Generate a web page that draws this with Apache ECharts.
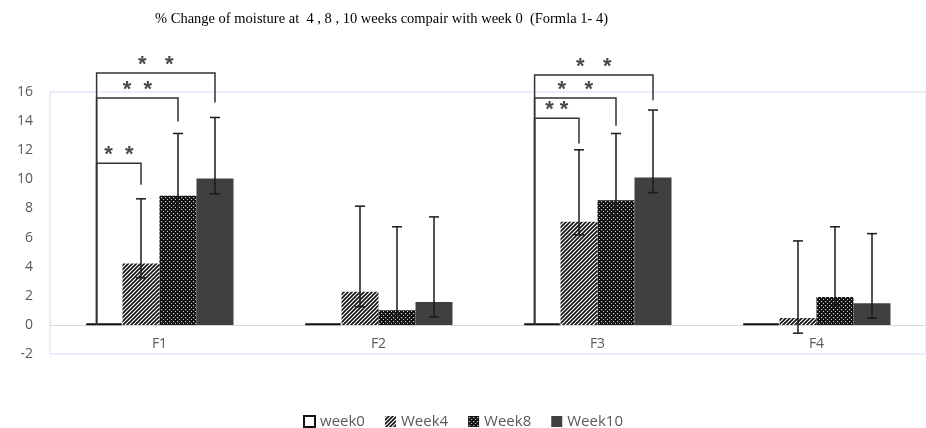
<!DOCTYPE html>
<html>
<head>
<meta charset="utf-8">
<script src="https://cdn.jsdelivr.net/npm/echarts@6/dist/echarts.min.js"></script>
<style>html,body{margin:0;padding:0;background:#fff}#c{width:926px;height:428px}</style>
</head>
<body>
<div id="c"></div>
<script>
// ---- data ----
const titleText = '% Change of moisture at  4 , 8 , 10 weeks compair with week 0  (Formla 1- 4)';
const categories = ['F1', 'F2', 'F3', 'F4'];
const seriesNames = ['week0', 'Week4', 'Week8', 'Week10'];
const week0 = [0.1, 0.1, 0.1, 0.1];
const week4 = [4.21, 2.27, 7.08, 0.48];
const week8 = [8.87, 1.01, 8.57, 1.92];
const week10 = [10.05, 1.58, 10.12, 1.49];
const week4Low = [3.23, 1.24, 6.19, -0.57];
const week4High = [8.66, 8.16, 12.03, 5.77];
const week8Low = [7.84, 0.6, 7.56, 1.3];
const week8High = [13.15, 6.74, 13.15, 6.74];
const week10Low = [9.0, 0.55, 9.09, 0.46];
const week10High = [14.25, 7.42, 14.76, 6.27];
const yTicks = [-2, 0, 2, 4, 6, 8, 10, 12, 14, 16];
// significance brackets: category index, target bar index, bracket level, drop end, label
const bracketCategory = [0, 0, 0, 2, 2, 2];
const bracketTarget = [1, 2, 3, 1, 2, 3];
const bracketLevel = [11.11, 15.58, 17.3, 14.2, 15.58, 17.16];
const bracketEnd = [9.62, 13.97, 15.28, 12.46, 13.68, 15.44];
const bracketLabel = ['*  *', '*  *', '*   *', '* *', '*   *', '*   *'];

// ---- styles ----
const BAR_W = 37;
const GRID_H = 262;
const yMin = yTicks[0], yMax = yTicks[yTicks.length - 1];
function hatchPattern() {
  const c = document.createElement('canvas');
  c.width = 4; c.height = 4;
  const g = c.getContext('2d');
  g.fillStyle = '#fff'; g.fillRect(0, 0, 4, 4);
  g.strokeStyle = '#111'; g.lineWidth = 1.6;
  g.beginPath();
  g.moveTo(-1, 5); g.lineTo(5, -1);
  g.moveTo(-1, 1); g.lineTo(1, -1);
  g.moveTo(3, 5); g.lineTo(5, 3);
  g.stroke();
  return { image: c, repeat: 'repeat' };
}
function dotPattern() {
  const c = document.createElement('canvas');
  c.width = 4; c.height = 4;
  const g = c.getContext('2d');
  g.fillStyle = '#111'; g.fillRect(0, 0, 4, 4);
  g.fillStyle = '#d0d0d0';
  g.fillRect(1, 1, 1.2, 1.2);
  g.fillRect(3, 3, 1.2, 1.2);
  return { image: c, repeat: 'repeat' };
}

function errRender(barIdx) {
  return function (params, api) {
    const cat = api.value(0);
    const lo = api.coord([cat, api.value(1)]);
    const hi = api.coord([cat, api.value(2)]);
    const x = lo[0] + (barIdx - 1.5) * BAR_W;
    const cap = 5;
    const st = { stroke: '#1a1a1a', lineWidth: 1.5 };
    return {
      type: 'group',
      children: [
        { type: 'line', shape: { x1: x, y1: lo[1], x2: x, y2: hi[1] }, style: st },
        { type: 'line', shape: { x1: x - cap, y1: hi[1], x2: x + cap, y2: hi[1] }, style: st },
        { type: 'line', shape: { x1: x - cap, y1: lo[1], x2: x + cap, y2: lo[1] }, style: st }
      ]
    };
  };
}

function bracketRender(params, api) {
  const i = params.dataIndex;
  const cat = api.value(0);
  const top = api.coord([cat, api.value(2)]);
  const base = api.coord([cat, 0]);
  const end = api.coord([cat, api.value(3)]);
  const x0 = top[0] + (0 - 1.5) * BAR_W - 0.2 * BAR_W;
  const x1 = top[0] + (api.value(1) - 1.5) * BAR_W;
  const st = { stroke: '#333', lineWidth: 1.5, fill: null };
  return {
    type: 'group',
    children: [
      { type: 'polyline', shape: { points: [[x0, base[1]], [x0, top[1]], [x1, top[1]], [x1, end[1]]] }, style: st },
      { type: 'text', x: (x0 + x1) / 2, y: top[1] - 8,
        style: { text: bracketLabel[i], fill: '#4a4a4a', font: 'bold 22px "Liberation Sans"', align: 'center', verticalAlign: 'middle' } }
    ]
  };
}

const chart = echarts.init(document.getElementById('c'));
const fontSans = '"Open Sans", "Liberation Sans", sans-serif';
chart.setOption({
  animation: false,
  title: {
    text: titleText, left: 150, top: 7,
    textStyle: { fontFamily: '"Liberation Serif", serif', fontSize: 14.5, fontWeight: 'normal', color: '#000' }
  },
  legend: {
    data: seriesNames, left: 'center', top: 409, itemWidth: 11, itemHeight: 11, itemGap: 20,
    icon: 'rect',
    textStyle: { fontFamily: fontSans, fontSize: 15, color: '#595959' }
  },
  grid: { left: 50, top: 92, width: 885, height: GRID_H, show: true, borderColor: '#d3def1', borderWidth: 1 },
  xAxis: {
    type: 'category', data: categories,
    offset: -GRID_H * (0 - yMin) / (yMax - yMin),
    axisLine: { onZero: false, lineStyle: { color: '#d9d9d9', width: 1 } },
    axisTick: { show: false },
    axisLabel: { color: '#595959', fontFamily: fontSans, fontSize: 14, margin: 12 }
  },
  yAxis: {
    type: 'value', min: yMin, max: yMax, interval: 2,
    axisLine: { show: false }, axisTick: { show: false }, splitLine: { show: false },
    axisLabel: { color: '#595959', fontFamily: fontSans, fontSize: 14, margin: 17 }
  },
  series: [
    { name: seriesNames[0], type: 'bar', data: week0, barWidth: BAR_W, barGap: '0%',
      itemStyle: { color: '#fff', borderColor: '#111', borderWidth: 2 } },
    { name: seriesNames[1], type: 'bar', data: week4, barWidth: BAR_W, barGap: '0%',
      itemStyle: { color: hatchPattern() } },
    { name: seriesNames[2], type: 'bar', data: week8, barWidth: BAR_W, barGap: '0%',
      itemStyle: { color: dotPattern() } },
    { name: seriesNames[3], type: 'bar', data: week10, barWidth: BAR_W, barGap: '0%',
      itemStyle: { color: '#404040' } },
    { name: 'err4', type: 'custom', renderItem: errRender(1), z: 5, clip: false,
      data: week4Low.map((v, i) => [i, v, week4High[i]]) },
    { name: 'err8', type: 'custom', renderItem: errRender(2), z: 5, clip: false,
      data: week8Low.map((v, i) => [i, v, week8High[i]]) },
    { name: 'err10', type: 'custom', renderItem: errRender(3), z: 5, clip: false,
      data: week10Low.map((v, i) => [i, v, week10High[i]]) },
    { name: 'brackets', type: 'custom', renderItem: bracketRender, z: 6, clip: false,
      data: bracketCategory.map((c, i) => [c, bracketTarget[i], bracketLevel[i], bracketEnd[i]]) }
  ]
});
</script>
</body>
</html>
